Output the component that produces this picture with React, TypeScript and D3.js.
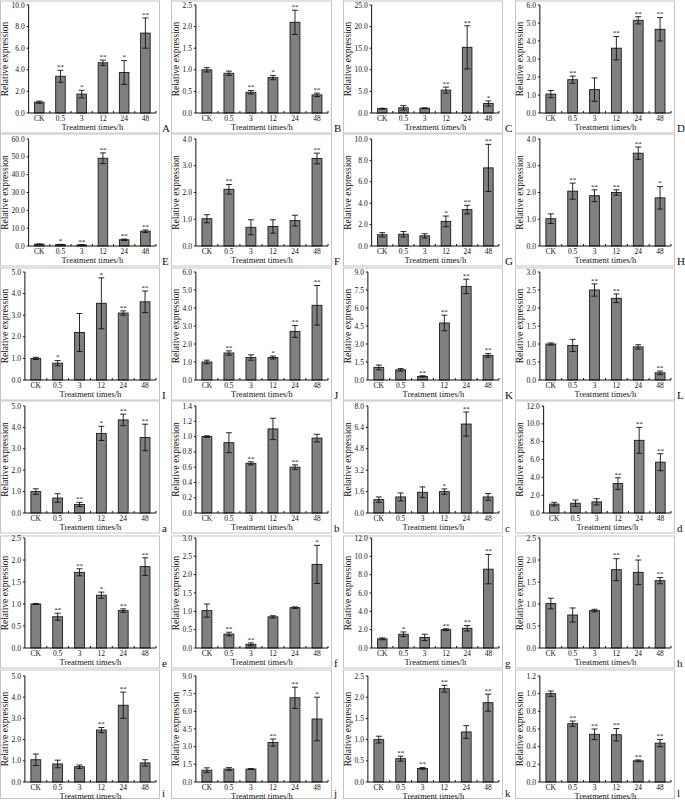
import React from "react";
import * as d3 from "d3";

const categories = ["CK", "0.5", "3", "12", "24", "48"];
const panelLabels = ["A","B","C","D","E","F","G","H","I","J","K","L","a","b","c","d","e","f","g","h","i","j","k","l"];
const yMaxes = [10, 2.5, 25, 6, 60, 4, 10, 4, 5, 6, 9, 3, 5, 1.4, 8, 12, 2.5, 3, 12, 2.5, 5, 9, 2.5, 1.2];
const ySteps = [2, 0.5, 5, 1, 10, 1, 2, 1, 1, 1, 1.5, 0.5, 1, 0.2, 1.6, 2, 0.5, 0.5, 2, 0.5, 1, 1.5, 0.5, 0.2];

const means = [
  [1.0, 3.4, 1.75, 4.65, 3.75, 7.4],
  [1.0, 0.92, 0.48, 0.82, 2.1, 0.42],
  [1.0, 1.2, 1.1, 5.3, 15.2, 2.2],
  [1.05, 1.85, 1.3, 3.6, 5.15, 4.65],
  [1.0, 0.8, 0.6, 49.2, 3.5, 8.3],
  [1.02, 2.12, 0.7, 0.73, 0.95, 3.27],
  [1.05, 1.1, 0.95, 2.3, 3.4, 7.3],
  [1.02, 2.05, 1.88, 2.0, 3.47, 1.8],
  [1.0, 0.78, 2.2, 3.55, 3.1, 3.62],
  [1.0, 1.5, 1.25, 1.25, 2.7, 4.15],
  [1.05, 0.85, 0.3, 4.75, 7.8, 2.05],
  [1.0, 0.96, 2.5, 2.27, 0.92, 0.2],
  [1.0, 0.7, 0.4, 3.72, 4.35, 3.53],
  [1.0, 0.92, 0.65, 1.1, 0.6, 0.98],
  [1.0, 1.2, 1.55, 1.6, 6.65, 1.2],
  [1.0, 1.1, 1.25, 3.3, 8.15, 5.7],
  [1.0, 0.71, 1.72, 1.2, 0.85, 1.85],
  [1.02, 0.38, 0.1, 0.85, 1.1, 2.28],
  [1.0, 1.5, 1.15, 2.0, 2.15, 8.6],
  [1.01, 0.75, 0.85, 1.78, 1.72, 1.53],
  [1.05, 0.85, 0.72, 2.45, 3.62, 0.9],
  [1.0, 1.1, 1.1, 3.35, 7.15, 5.35],
  [1.0, 0.55, 0.32, 2.2, 1.18, 1.87],
  [1.0, 0.66, 0.54, 0.535, 0.24, 0.44],
];

const errors = [
  [0.1, 0.55, 0.35, 0.25, 1.1, 1.4],
  [0.05, 0.05, 0.04, 0.05, 0.28, 0.04],
  [0.1, 0.5, 0.1, 0.7, 5.0, 0.6],
  [0.2, 0.2, 0.65, 0.65, 0.2, 0.65],
  [0.1, 0.1, 0.1, 3.0, 0.4, 0.7],
  [0.15, 0.18, 0.28, 0.25, 0.2, 0.2],
  [0.2, 0.25, 0.2, 0.5, 0.4, 2.2],
  [0.18, 0.3, 0.22, 0.1, 0.23, 0.42],
  [0.05, 0.12, 0.88, 1.18, 0.1, 0.5],
  [0.1, 0.12, 0.15, 0.08, 0.33, 1.1],
  [0.2, 0.1, 0.05, 0.65, 0.6, 0.15],
  [0.03, 0.17, 0.17, 0.12, 0.06, 0.05],
  [0.13, 0.2, 0.1, 0.33, 0.27, 0.62],
  [0.01, 0.13, 0.02, 0.14, 0.03, 0.05],
  [0.2, 0.3, 0.4, 0.2, 0.9, 0.25],
  [0.2, 0.35, 0.35, 0.65, 1.45, 0.95],
  [0.01, 0.08, 0.08, 0.07, 0.04, 0.2],
  [0.18, 0.05, 0.04, 0.03, 0.02, 0.52],
  [0.1, 0.25, 0.35, 0.1, 0.3, 1.6],
  [0.12, 0.16, 0.03, 0.25, 0.28, 0.07],
  [0.27, 0.18, 0.08, 0.12, 0.62, 0.15],
  [0.2, 0.12, 0.04, 0.3, 0.9, 1.85],
  [0.08, 0.06, 0.02, 0.08, 0.15, 0.2],
  [0.03, 0.03, 0.06, 0.07, 0.01, 0.04],
];

const stars = [
  ["", "**", "*", "**", "*", "**"],
  ["", "", "**", "*", "**", "**"],
  ["", "", "", "**", "**", "*"],
  ["", "**", "", "**", "**", "**"],
  ["", "*", "**", "**", "**", "**"],
  ["", "**", "", "", "", "**"],
  ["", "", "", "*", "**", "**"],
  ["", "**", "**", "**", "**", "*"],
  ["", "*", "", "*", "**", "**"],
  ["", "**", "", "*", "**", "**"],
  ["", "", "**", "**", "**", "**"],
  ["", "", "**", "**", "", "**"],
  ["", "", "**", "*", "**", "**"],
  ["", "", "**", "", "**", ""],
  ["", "", "", "*", "**", ""],
  ["", "", "", "**", "**", "**"],
  ["", "**", "**", "*", "**", "**"],
  ["", "**", "**", "", "", "*"],
  ["", "*", "", "**", "**", "**"],
  ["", "", "", "**", "*", "**"],
  ["", "", "", "**", "**", ""],
  ["", "", "", "**", "**", "*"],
  ["", "**", "**", "**", "", "**"],
  ["", "**", "**", "**", "**", "**"],
];

const FONT = "'Times New Roman', 'Liberation Serif', 'DejaVu Serif', serif";
const colLefts = [0, 171, 343, 515];
const colWidths = [159, 160, 159, 159];
const rowTops = [5, 139, 272, 406, 538, 676];
const rowBottoms = [113, 246, 380, 513, 648, 782];
const TICK_FS = 7.5;

function labelWidth(s: string) {
  let w = 0;
  for (const ch of s) w += ch === "." ? 0.25 : 0.5;
  return w * TICK_FS;
}

function Panel({ idx }: { idx: number }) {
  const r = Math.floor(idx / 4);
  const c = idx % 4;
  const fx = colLefts[c];
  const fw = colWidths[c];
  const top = rowTops[r];
  const bottom = rowBottoms[r];
  const frameTop = Math.max(bottom - 112.5, 0);
  const frameBottom = Math.min(bottom + 19.5, 798);
  const yMax = yMaxes[idx];
  const step = ySteps[idx];
  const ticks = d3.range(0, yMax + step / 2, step).map((v) => +v.toFixed(4));
  const tickLabels = ticks.map((t) => t.toFixed(1));
  const maxW = Math.max(...tickLabels.map(labelWidth));
  const axisX = fx + 15.5 + maxW;
  const plotRight = fx + fw - 3;
  const y = d3.scaleLinear().domain([0, yMax]).range([bottom, top]);
  const x = d3.scaleBand<string>().domain(categories).range([axisX, plotRight]).paddingInner(0.55).paddingOuter(0.275);
  const stepX = x.step();
  const bw = x.bandwidth();
  const vals = means[idx];
  const errs = errors[idx];
  const st = stars[idx];
  return (
    <g>
      <rect x={fx + 0.5} y={frameTop + 0.5} width={fw} height={frameBottom - frameTop} fill="none" stroke="#c4c4c4" strokeWidth={1} />
      <text x={fx + fw + 3} y={frameBottom - 1} fontSize={11} fontFamily={FONT} fill="#111">{panelLabels[idx]}</text>
      {categories.map((cat, i) => {
        const bx = x(cat)!;
        const v = vals[i];
        const e = errs[i];
        const cx = bx + bw / 2;
        const yTop = y(v + e);
        const yBot = y(Math.max(0, v - e));
        return (
          <g key={cat}>
            <rect x={bx} y={y(v)} width={bw} height={bottom - y(v)} fill="#808080" stroke="#1a1a1a" strokeWidth={0.9} />
            <line x1={cx} x2={cx} y1={yTop} y2={yBot} stroke="#111" strokeWidth={0.9} />
            <line x1={cx - 3} x2={cx + 3} y1={yTop} y2={yTop} stroke="#111" strokeWidth={0.9} />
            <line x1={cx - 3} x2={cx + 3} y1={yBot} y2={yBot} stroke="#111" strokeWidth={0.9} />
            {st[i] && (
              <text x={cx} y={yTop - 1.2} fontSize={7} textAnchor="middle" fontFamily={FONT} fill="#111">{st[i]}</text>
            )}
            <text x={cx} y={bottom + 8} fontSize={7.5} textAnchor="middle" fontFamily={FONT} fill="#111">{cat}</text>
          </g>
        );
      })}
      <line x1={axisX} x2={axisX} y1={top} y2={bottom} stroke="#111" strokeWidth={1} />
      <line x1={axisX} x2={plotRight} y1={bottom} y2={bottom} stroke="#111" strokeWidth={1} />
      {ticks.map((t, i) => (
        <g key={i}>
          <line x1={axisX - 2} x2={axisX} y1={y(t)} y2={y(t)} stroke="#111" strokeWidth={1} />
          <text x={axisX - 4} y={y(t) + 2.6} fontSize={TICK_FS} textAnchor="end" fontFamily={FONT} fill="#111">{tickLabels[i]}</text>
        </g>
      ))}
      {d3.range(1, categories.length + 1).map((k) => (
        <line key={k} x1={axisX + k * stepX} x2={axisX + k * stepX} y1={bottom} y2={bottom - 2} stroke="#111" strokeWidth={1} />
      ))}
      <text x={(axisX + plotRight) / 2} y={bottom + 17} fontSize={8.5} textAnchor="middle" fontFamily={FONT} fill="#111">Treatment times/h</text>
      <text transform={`translate(${fx + 8},${(top + bottom) / 2}) rotate(-90)`} fontSize={9.5} textAnchor="middle" fontFamily={FONT} fill="#111">Relative expression</text>
    </g>
  );
}

export default function App() {
  return (
    <svg width={685} height={800} style={{ position: "absolute", left: 0, top: 0, background: "#fff" }}>
      <rect x={0} y={0} width={685} height={800} fill="#fff" />
      {panelLabels.map((_, i) => (
        <Panel key={i} idx={i} />
      ))}
    </svg>
  );
}
